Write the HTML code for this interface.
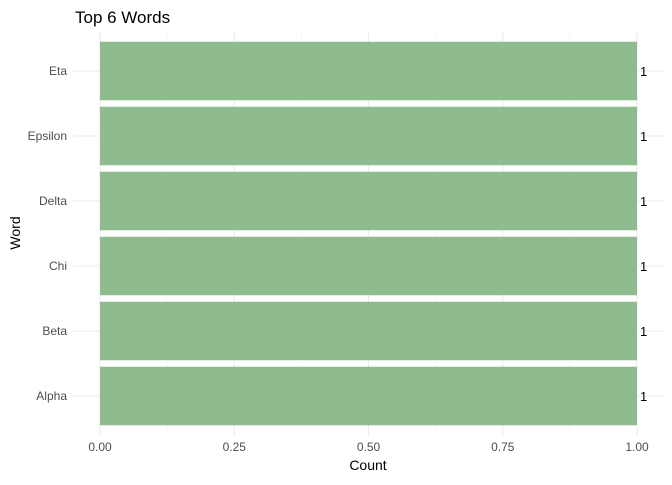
<!DOCTYPE html>
<html><head><meta charset="utf-8"><style>
body{margin:0;background:#fff}
svg text{font-family:"Liberation Sans",sans-serif}
</style></head><body>
<svg id="chart" width="672" height="480"></svg>
<script>
const categories=["Alpha","Beta","Chi","Delta","Epsilon","Eta"];
const counts=[1,1,1,1,1,1];
const xTicks=[0,0.25,0.5,0.75,1];
const xTickLabels=["0.00","0.25","0.50","0.75","1.00"];
const svg=document.getElementById('chart');
const NS="http://www.w3.org/2000/svg";
const L=73,R=664,T=32,B=435;
const xmax=1;
const x=v=>100+v/xmax*537;
const band=(B-T)/(categories.length+0.2);
const y=i=>B-band*(0.6+i);
function mk(t,a,p){const e=document.createElementNS(NS,t);for(const k in a)e.setAttribute(k,a[k]);(p||svg).appendChild(e);return e;}
const g=mk('g',{});


for(let i=0;i<xTicks.length-1;i++){const m=(xTicks[i]+xTicks[i+1])/2;mk('line',{x1:x(m),x2:x(m),y1:T,y2:B,stroke:'#f2f2f2','stroke-width':0.6},g);}
xTicks.forEach(v=>mk('line',{x1:x(v),x2:x(v),y1:T,y2:B,stroke:'#ebebeb','stroke-width':1.1},g));
categories.forEach((c,i)=>mk('line',{x1:L,x2:R,y1:y(i),y2:y(i),stroke:'#ebebeb','stroke-width':1.1},g));
categories.forEach((c,i)=>{
 const r=mk('rect',{x:x(0),y:y(i)-band*0.45,width:x(counts[i])-x(0),height:band*0.9,fill:'#8fbc8f'});
 
 
 const t=mk('text',{x:x(counts[i])+3,y:y(i)+5,'font-size':13,fill:'#000'});t.textContent=counts[i];
 
 
 const l=mk('text',{x:67,y:y(i)+4,'font-size':12,fill:'#4d4d4d','text-anchor':'end'});l.textContent=c;
 
 
});
xTicks.forEach((v,i)=>{const t=mk('text',{x:x(v),y:451,'font-size':12,fill:'#4d4d4d','text-anchor':'middle'});t.textContent=xTickLabels[i];
 
 });
const xt=mk('text',{x:368,y:470,'font-size':14,fill:'#000','text-anchor':'middle'});xt.textContent='Count';


const yt=mk('text',{x:0,y:0,'font-size':14,fill:'#000','text-anchor':'middle',transform:'translate(20,233) rotate(-90)'});yt.textContent='Word';


const tt=mk('text',{x:75,y:23,'font-size':17,fill:'#000'});tt.textContent='Top 6 Words';


</script>
</body></html>
